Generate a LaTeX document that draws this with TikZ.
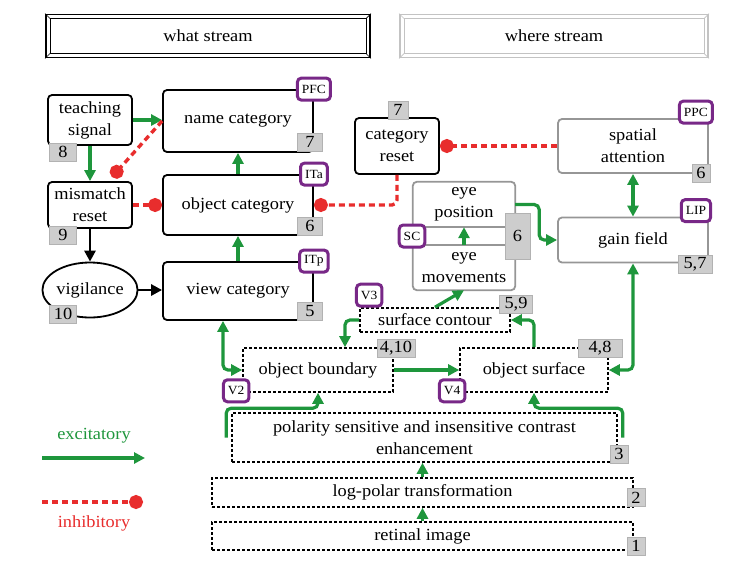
\documentclass[tikz,border=0pt]{standalone}
\usepackage{fontspec}
\setmainfont{Liberation Serif}[FakeStretch=1.08]
\usetikzlibrary{arrows.meta,shapes.geometric}
\definecolor{excgreen}{RGB}{30,150,60}
\definecolor{inhred}{RGB}{232,45,45}
\definecolor{tagpurple}{RGB}{120,40,135}
\definecolor{numgray}{RGB}{205,205,205}
\definecolor{wheregray}{RGB}{195,195,195}
\definecolor{boxgray}{RGB}{150,150,150}

\tikzset{
  areabox/.style={draw, line width=1.8pt, rounded corners=4pt, align=center, inner sep=1pt},
  whereabox/.style={areabox, draw=boxgray},
  stagebox/.style={draw, line width=1.6pt, dash pattern=on 3pt off 2pt, align=center, inner sep=1pt},
  areatag/.style={draw=tagpurple, line width=3pt, rounded corners=4pt, fill=white, font=\fontsize{12.5}{14}\selectfont, inner xsep=4.5pt, inner ysep=2pt, minimum height=22pt},
  numbox/.style={fill=numgray, draw=gray!60, line width=0.4pt, inner sep=1.5pt, minimum width=18pt, minimum height=18pt},
  exc/.style={draw=excgreen, line width=3.2pt, -{Triangle[length=11pt,width=11pt]}},
  excboth/.style={exc, {Triangle[length=11pt,width=11pt]}-{Triangle[length=11pt,width=11pt]}},
  inh/.style={draw=inhred, line width=3.4pt, dash pattern=on 6pt off 4pt, -{Circle[length=14pt]}},
  drive/.style={line width=2.8pt, -{Triangle[length=11pt,width=11pt]}},
  banner/.style={draw, line width=1.8pt, minimum height=43pt}
}

\begin{document}
\begin{tikzpicture}[x=1pt,y=-1pt,font=\fontsize{17}{22}\selectfont]
\useasboundingbox (0,0) rectangle (755,568);

\node[banner, minimum width=324pt] (what) at (208,36) {what stream};
\node[banner, draw=wheregray, minimum width=308pt] (where) at (554,36) {where stream};
\foreach \b/\c in {what/black, where/wheregray} {
  \draw[\c, line width=0.7pt] ([shift={(5,5)}]\b.north west) rectangle ([shift={(-5,-5)}]\b.south east);
  \draw[\c, line width=0.7pt] (\b.north west) -- ([shift={(5,5)}]\b.north west)
    (\b.north east) -- ([shift={(-5,5)}]\b.north east)
    (\b.south west) -- ([shift={(5,-5)}]\b.south west)
    (\b.south east) -- ([shift={(-5,-5)}]\b.south east);
}

\node[areabox, minimum width=84pt, minimum height=50pt] (teach) at (90,120) {teaching\\signal};
\node[areabox, minimum width=150pt, minimum height=62pt] (name) at (238,121) {name category};
\node[areabox, minimum width=84pt, minimum height=46pt] (mismatch) at (90,205) {mismatch\\reset};
\node[areabox, minimum width=150pt, minimum height=60pt] (objcat) at (238,205) {object category};
\node[draw, ellipse, line width=1.8pt, minimum width=84pt, minimum height=55pt, inner sep=0pt] (vig) at (90,290) {vigilance};
\node[areabox, minimum width=150pt, minimum height=58pt] (viewcat) at (238,291) {view category};
\node[areabox, minimum width=84pt, minimum height=56pt] (catreset) at (397,146) {category\\reset};
\node[whereabox, minimum width=150pt, minimum height=54pt] (spatial) at (633,146) {spatial\\attention};
\node[whereabox, minimum width=150pt, minimum height=45pt] (gain) at (633,240) {gain field};
\node[align=center, inner sep=0pt, minimum width=102pt, minimum height=45pt] (eyepos) at (464,204.5) {eye\\position};
\node[align=center, inner sep=0pt, minimum width=102pt, minimum height=45pt] (eyemov) at (464,267.5) {eye\\movements};
\node[stagebox, minimum width=150pt, minimum height=24pt] (surf) at (435,320) {surface contour};
\node[stagebox, minimum width=150pt, minimum height=44pt] (objbnd) at (318,370) {object boundary};
\node[stagebox, minimum width=148pt, minimum height=44pt] (objsurf) at (534,370) {object surface};
\node[stagebox, minimum width=385pt, minimum height=49pt] (polar) at (424.5,437.5) {polarity sensitive and insensitive contrast\\enhancement};
\node[stagebox, minimum width=421pt, minimum height=29pt] (logpolar) at (422.5,492.5) {log-polar transformation};
\node[stagebox, minimum width=421pt, minimum height=28pt] (retinal) at (422.5,536) {retinal image};

\draw[boxgray, line width=1.8pt, rounded corners=4pt] (eyepos.north west) rectangle (eyemov.south east);
\draw[boxgray, line width=1.8pt] (eyepos.south west) -- (eyepos.south east) (eyemov.north west) -- (eyemov.north east);

\coordinate (inhend) at (112,177);
\draw[exc] (teach.east) -- (teach.east -| name.west);
\draw[exc] (teach) -- (mismatch);
\draw[inh] (name.west) -- (inhend);
\draw[inh] (mismatch.east) -- (mismatch.east -| objcat.west);
\draw[drive] (mismatch) -- (vig);
\draw[drive] (vig.east) -- (vig.east -| viewcat.west);
\draw[exc] (viewcat) -- (objcat);
\draw[exc] (objcat) -- (name);
\draw[inh, rounded corners=5pt] (catreset.south) |- (objcat.east);
\draw[inh] (spatial.west) -- (spatial.west -| catreset.east);
\draw[excboth] (spatial) -- (gain);
\draw[exc] (eyemov.north) -- (eyepos.south);
\draw[exc, rounded corners=5pt] (eyepos.east) -- ++(24,0) |- (gain.west);
\draw[excboth, rounded corners=5pt] (gain.south) |- (objsurf.east);
\draw[exc] (surf.north) -- (eyemov.south);
\draw[exc, rounded corners=5pt] (surf.west) -| ([xshift=27pt]objbnd.north);
\draw[exc, rounded corners=5pt] (objsurf.north) |- (surf.east);
\draw[excboth, rounded corners=5pt] ([xshift=-15pt]viewcat.south) |- (objbnd.west);
\draw[exc] (objbnd) -- (objsurf);
\draw[exc, rounded corners=5pt] ([xshift=-5pt]polar.west) |- ([yshift=4pt]polar.north -| objbnd.south) -- (objbnd.south);
\draw[exc, rounded corners=5pt] ([xshift=5pt]polar.east) |- ([yshift=4pt]polar.north -| objsurf.south) -- (objsurf.south);
\draw[exc] (logpolar.north) -- (logpolar.north |- polar.south);
\draw[exc] (retinal.north) -- (retinal.north |- logpolar.south);

\node[areatag] (pfc) at (name.north east) {PFC};
\node[areatag] (ita) at (objcat.north east) {ITa};
\node[areatag] (itp) at (viewcat.north east) {ITp};
\node[areatag] (ppc) at ([shift={(-13,-6)}]spatial.north east) {PPC};
\node[areatag] (lip) at ([shift={(-13,-6)}]gain.north east) {LIP};
\node[areatag] (sc) at (412,236) {SC};
\node[areatag] (vthree) at ([shift={(10,-12)}]surf.north west) {V3};
\node[areatag] (vtwo) at ([shift={(-6,-2)}]objbnd.south west) {V2};
\node[areatag] (vfour) at ([shift={(-7,-2)}]objsurf.south west) {V4};

\node[numbox, minimum width=27pt] (nteach) at (63,152) {8};
\node[numbox, minimum width=27pt] (nmismatch) at (63,235) {9};
\node[numbox, minimum width=27pt] (nvig) at (63,314) {10};
\node[numbox, minimum width=25pt] (nname) at (310,142) {7};
\node[numbox, minimum width=25pt] (nobjcat) at (310,226) {6};
\node[numbox, minimum width=25pt] (nviewcat) at (310,311) {5};
\node[numbox, minimum width=20pt] (ncatreset) at (398,110) {7};
\node[numbox] (nspatial) at (701,173) {6};
\node[numbox, minimum width=34pt] (ngain) at (695,264) {5,7};
\node[numbox, minimum width=25pt, minimum height=46pt] (neye) at (517.5,236) {6};
\node[numbox, minimum width=33pt] (nsurf) at (516,304) {5,9};
\node[numbox, minimum width=38pt] (nobjbnd) at (396,348.5) {4,10};
\node[numbox, minimum width=44pt] (nobjsurf) at (600,348.5) {4,8};
\node[numbox] (npolar) at (619,454) {3};
\node[numbox] (nlogpolar) at (636,497.5) {2};
\node[numbox] (nretinal) at (636,546) {1};

\node[text=excgreen] (exclabel) at (94,436) {excitatory};
\coordinate (excstart) at (42,458);
\coordinate (excend) at (145,458);
\draw[exc, line width=4pt] (excstart) -- (excend);
\coordinate (inhstart) at (42,502);
\coordinate (inhstop) at (143,502);
\draw[inh] (inhstart) -- (inhstop);
\node[text=inhred] (inhlabel) at (94,523) {inhibitory};
\end{tikzpicture}
\end{document}
